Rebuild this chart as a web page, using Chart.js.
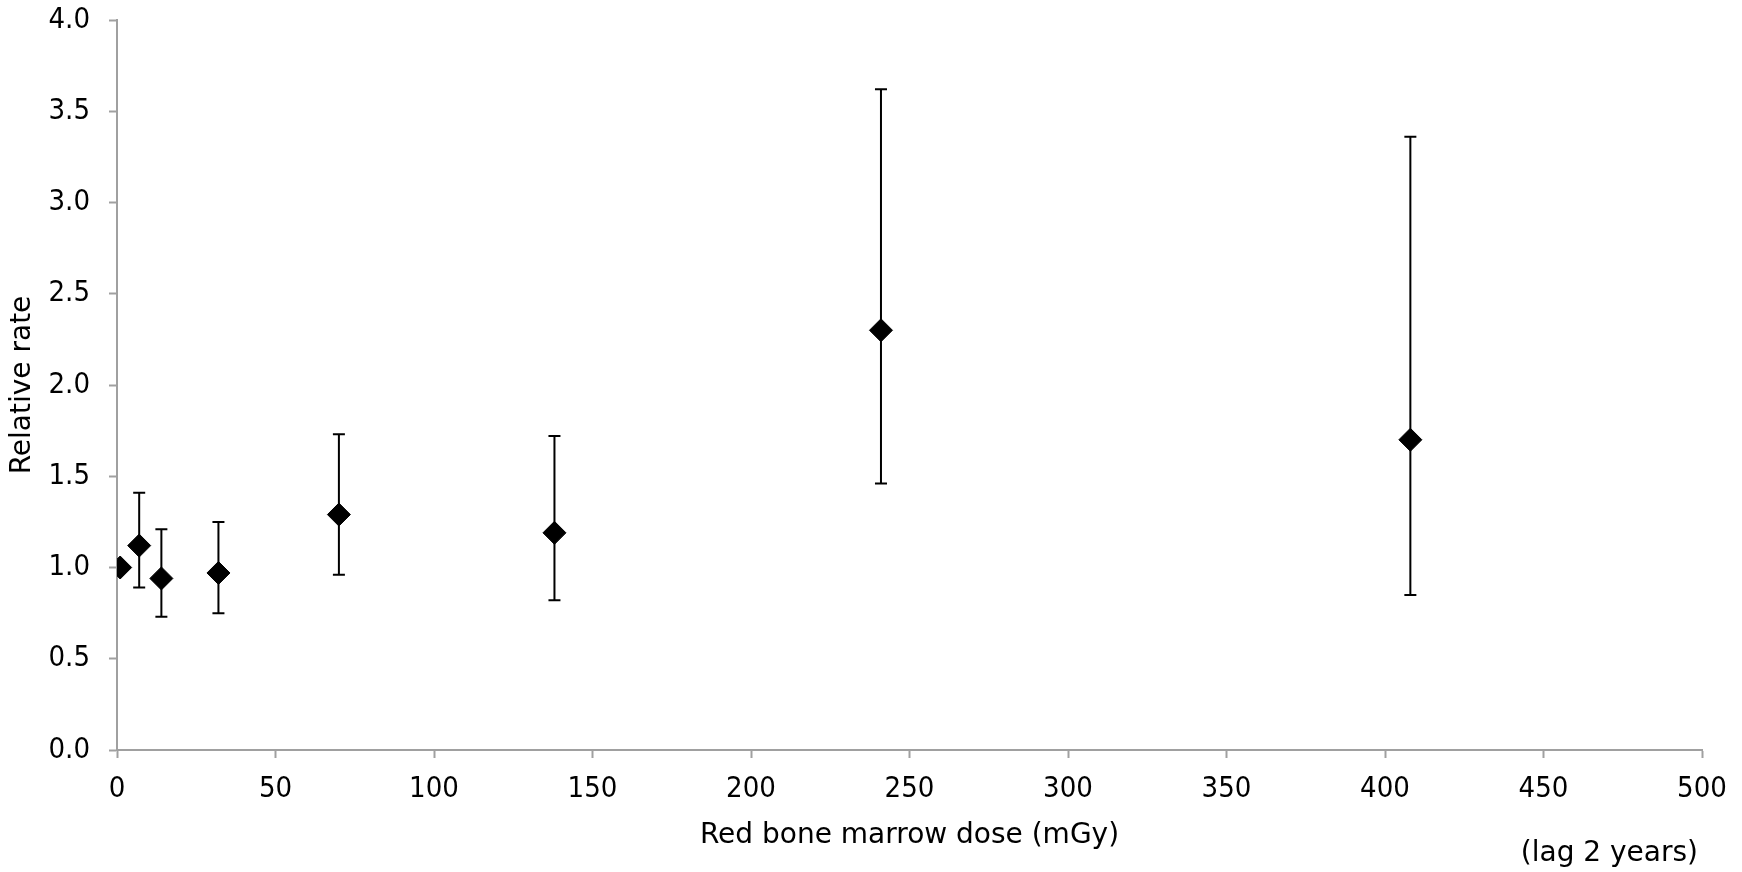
<!DOCTYPE html>
<html>
<head>
<meta charset="utf-8">
<title>Relative rate by red bone marrow dose</title>
<script src="https://cdn.jsdelivr.net/npm/chart.js@4.4.1/dist/chart.umd.min.js"></script>
<style>
    html, body { margin: 0; padding: 0; background: #fff; }
    #wrap { width: 1742px; height: 872px; }
</style>
</head>
<body>
<div id="wrap"><canvas id="doseChart"></canvas></div>
<script>
// values
const doses = [1, 7, 14, 32, 70, 138, 241, 408];        // mGy
const relRate = [1.00, 1.12, 0.94, 0.97, 1.29, 1.19, 2.30, 1.70];
const ciLow = [null, 0.89, 0.73, 0.75, 0.96, 0.82, 1.46, 0.85];
const ciHigh = [null, 1.41, 1.21, 1.25, 1.73, 1.72, 3.62, 3.36];

const TICK_FONT = "'DejaVu Sans Condensed', 'DejaVu Sans', sans-serif";
const TITLE_FONT = "'DejaVu Sans', sans-serif";
const AXIS_GREY = '#a0a0a0';

// error bars, drawn under the diamonds
const errorBars = {
    id: 'errorBars',
    beforeDatasetsDraw(chart) {
        const { ctx, scales: { x, y } } = chart;
        ctx.save();
        ctx.strokeStyle = '#000';
        ctx.lineWidth = 2;
        doses.forEach((d, i) => {
            if (ciLow[i] == null) return;
            const px = x.getPixelForValue(d);
            const top = y.getPixelForValue(ciHigh[i]);
            const bot = y.getPixelForValue(ciLow[i]);
            ctx.beginPath();
            ctx.moveTo(px, top);
            ctx.lineTo(px, bot);
            ctx.moveTo(px - 6, top);
            ctx.lineTo(px + 6, top);
            ctx.moveTo(px - 6, bot);
            ctx.lineTo(px + 6, bot);
            ctx.stroke();
        });
        ctx.restore();
    }
};

// the "(lag 2 years)" note under the x axis title
const lagNote = {
    id: 'lagNote',
    afterDraw(chart) {
        const { ctx } = chart;
        ctx.save();
        ctx.font = '28px ' + TITLE_FONT;
        ctx.fillStyle = '#000';
        ctx.textAlign = 'right';
        ctx.textBaseline = 'alphabetic';
        ctx.fillText('(lag 2 years)', chart.scales.x.right - 4, chart.height - 11);
        ctx.restore();
    }
};

new Chart(document.getElementById('doseChart'), {
    type: 'scatter',
    data: {
        datasets: [{
            data: doses.map((d, i) => ({ x: d, y: relRate[i] })),
            pointStyle: 'rectRot',
            pointRadius: 11.5,
            pointHoverRadius: 11.5,
            backgroundColor: '#000',
            borderColor: '#000',
            borderWidth: 1
        }]
    },
    options: {
        responsive: true,
        maintainAspectRatio: false,
        animation: false,
        layout: { padding: { left: 0, top: 20, right: 40, bottom: 0 } },
        plugins: {
            legend: { display: false },
            tooltip: { enabled: false }
        },
        scales: {
            x: {
                type: 'linear',
                min: 0,
                max: 500,
                ticks: {
                    stepSize: 50,
                    color: '#000',
                    font: { family: TICK_FONT, size: 29 },
                    padding: 14,
                    maxRotation: 0
                },
                grid: { drawOnChartArea: false, tickLength: 8, tickColor: AXIS_GREY, tickWidth: 2 },
                border: { color: AXIS_GREY, width: 2 },
                title: {
                    display: true,
                    text: 'Red bone marrow dose (mGy)',
                    color: '#000',
                    font: { family: TITLE_FONT, size: 28 },
                    padding: { top: 0, bottom: 19 }
                },
                afterFit(scale) { scale.height = 122; }
            },
            y: {
                min: 0,
                max: 4,
                ticks: {
                    stepSize: 0.5,
                    color: '#000',
                    font: { family: TICK_FONT, size: 29 },
                    padding: 19,
                    callback: v => v.toFixed(1)
                },
                grid: { drawOnChartArea: false, tickLength: 8, tickColor: AXIS_GREY, tickWidth: 2 },
                border: { color: AXIS_GREY, width: 2 },
                title: {
                    display: true,
                    text: 'Relative rate',
                    color: '#000',
                    font: { family: TITLE_FONT, size: 28 },
                    padding: { top: 6, bottom: 0 }
                },
                afterFit(scale) {
                    scale.width = 117;
                    // label padding would otherwise push the plot top down
                    scale.paddingTop = 0;
                    scale.paddingBottom = 0;
                }
            }
        }
    },
    plugins: [errorBars, lagNote]
});
</script>
</body>
</html>
